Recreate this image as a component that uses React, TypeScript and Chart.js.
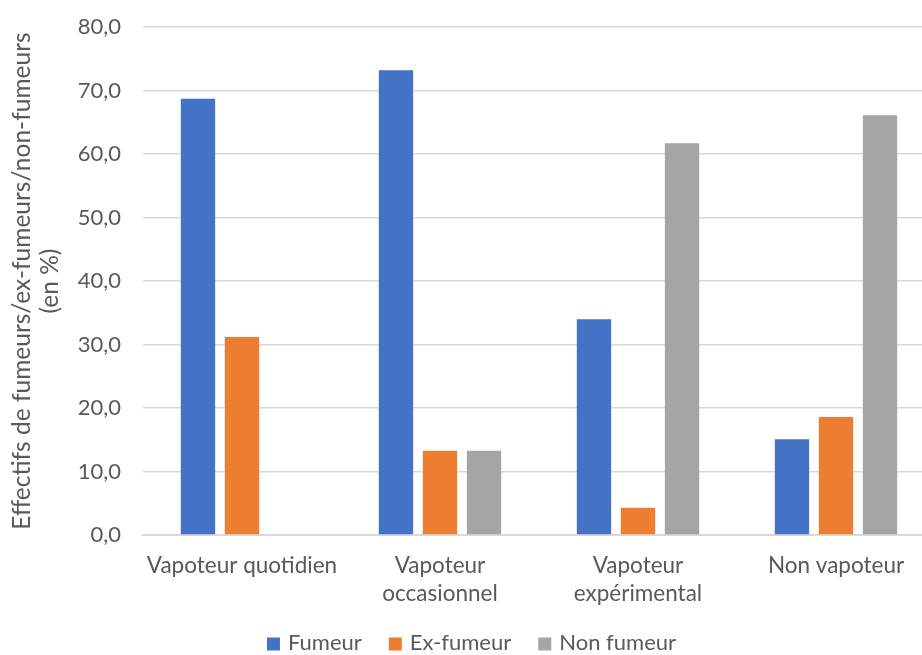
import React, { useEffect, useRef } from "react";
import { Chart, registerables } from "chart.js";

Chart.register(...registerables);

const categories: string[][] = [
  ["Vapoteur quotidien"],
  ["Vapoteur", "occasionnel"],
  ["Vapoteur", "expérimental"],
  ["Non vapoteur"],
];
const fumeur = [68.7, 73.2, 34.0, 15.1];
const exFumeur = [31.2, 13.3, 4.3, 18.6];
const nonFumeur = [0, 13.3, 61.7, 66.1];
const seriesNames = ["Fumeur", "Ex-fumeur", "Non fumeur"];
const seriesColors = ["#4472C4", "#ED7D31", "#A5A5A5"];
const yTitle = ["Effectifs de fumeurs/ex-fumeurs/non-fumeurs", "(en %)"];

const FONT = "Lato, 'Open Sans', sans-serif";
const TEXT = "#595959";

// Excel-like bottom legend drawn by hand for spacing control
const bottomLegend = {
  id: "bottomLegend",
  afterDraw(chart: any) {
    const ctx = chart.ctx;
    const box = 13;
    const gapText = 8;
    const gapItem = 27;
    const yCenter = chart.height - 12;
    ctx.save();
    ctx.font = `22px ${FONT}`;
    ctx.textBaseline = "middle";
    const items = chart.data.datasets.map((d: any) => ({
      text: d.label,
      color: d.backgroundColor,
      w: ctx.measureText(d.label).width,
    }));
    const total =
      items.reduce((s: number, it: any) => s + box + gapText + it.w, 0) +
      gapItem * (items.length - 1);
    let x = chart.width / 2 - total / 2 + 4;
    items.forEach((it: any) => {
      ctx.fillStyle = it.color;
      ctx.fillRect(x, yCenter - box / 2 + 1, box, box);
      ctx.fillStyle = TEXT;
      ctx.fillText(it.text, x + box + gapText, yCenter);
      x += box + gapText + it.w + gapItem;
    });
    ctx.restore();
  },
};

export default function App() {
  const ref = useRef<HTMLCanvasElement | null>(null);

  useEffect(() => {
    if (!ref.current) return;
    const chart = new Chart(ref.current, {
      type: "bar",
      data: {
        labels: categories,
        datasets: [
          { label: seriesNames[0], data: fumeur, backgroundColor: seriesColors[0] },
          { label: seriesNames[1], data: exFumeur, backgroundColor: seriesColors[1] },
          { label: seriesNames[2], data: nonFumeur, backgroundColor: seriesColors[2] },
        ],
      },
      plugins: [bottomLegend],
      options: {
        responsive: false,
        animation: false,
        datasets: {
          bar: { categoryPercentage: 0.667, barPercentage: 0.78 },
        },
        layout: { padding: { top: 27, left: 0, right: 0, bottom: 31 } },
        plugins: {
          tooltip: { enabled: false },
          legend: { display: false },
        },
        scales: {
          x: {
            grid: { display: false, drawTicks: false },
            border: { display: true, color: "#D9D9D9", width: 2 },
            ticks: {
              color: TEXT,
              padding: 17,
              maxRotation: 0,
              autoSkip: false,
              font: { family: FONT, size: 22.5, lineHeight: 1.22 },
            },
          },
          y: {
            min: 0,
            max: 80,
            afterFit: (scale: any) => {
              scale.width = 143;
              scale.paddingTop = 12;
              scale.paddingBottom = 0;
            },
            grid: { color: "#D9D9D9", lineWidth: 1.5, drawTicks: false },
            border: { display: false },
            ticks: {
              stepSize: 10,
              color: TEXT,
              padding: 22,
              font: { family: FONT, size: 22 },
              callback: (v: any) => Number(v).toFixed(1).replace(".", ","),
            },
            title: {
              display: true,
              text: yTitle,
              color: TEXT,
              padding: { top: 8, bottom: 0 },
              font: { family: FONT, size: 24.5, lineHeight: 1.14 },
            },
          },
        },
      },
    });
    return () => chart.destroy();
  }, []);

  return (
    <div
      style={{
        position: "fixed",
        left: 0,
        top: 0,
        width: 922,
        height: 655,
        overflow: "hidden",
        background: "#fff",
      }}
    >
      <canvas ref={ref} width={935} height={655} style={{ display: "block" }} />
    </div>
  );
}
